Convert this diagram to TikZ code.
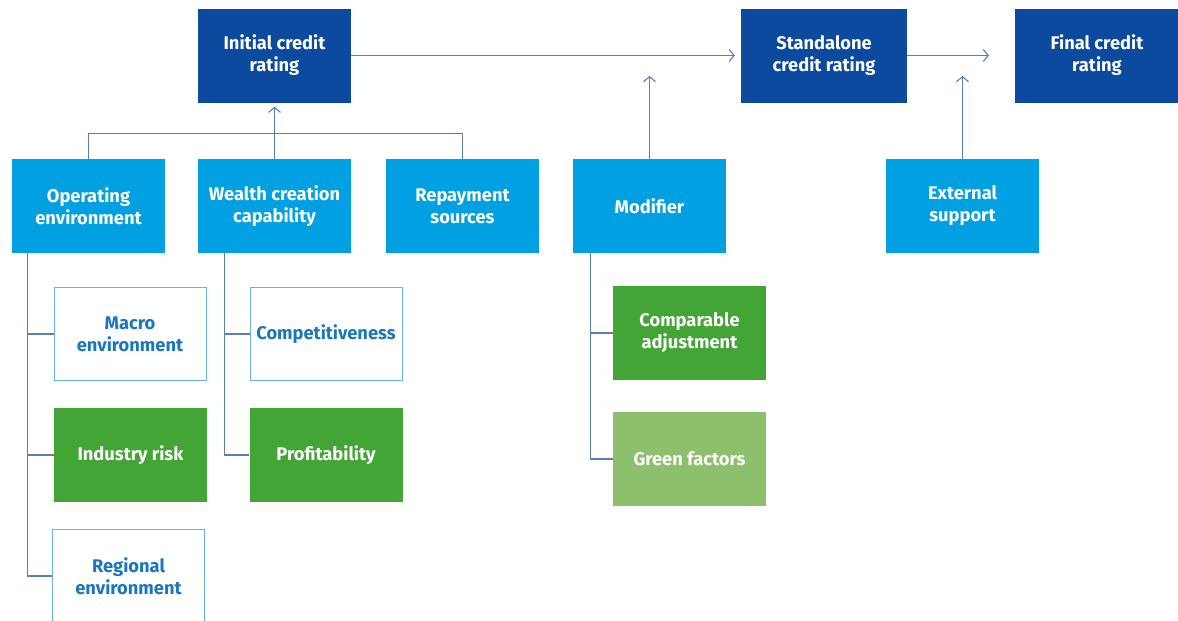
\documentclass[tikz,border=0pt]{standalone}
\usepackage{fontspec}
\setmainfont{Fira Sans}
\usetikzlibrary{arrows.meta}
\definecolor{dblue}{HTML}{0B4A9E}
\definecolor{lblue}{HTML}{00A0E3}
\definecolor{tblue}{HTML}{1B76C0}
\definecolor{bord}{HTML}{6AB4E4}
\definecolor{dgreen}{HTML}{44A537}
\definecolor{lgreen}{HTML}{8DC06C}
\definecolor{lnc}{HTML}{5B7DB8}
\begin{document}
\begin{tikzpicture}[x=1pt,y=-1pt,
  box/.style={minimum width=153pt, minimum height=94pt, inner sep=0pt, align=center,
    font=\bfseries\fontsize{18.3}{22}\selectfont, text=white},
  darkbox/.style={box, fill=dblue},
  midbox/.style={box, fill=lblue},
  whitebox/.style={box, minimum width=152pt, minimum height=93pt, draw=bord, line width=1pt, fill=white, text=tblue},
  greenbox/.style={box, fill=dgreen},
  lgreenbox/.style={box, fill=lgreen},
  conn/.style={draw=lnc, line width=1.1pt},
  arr/.style={conn, -{Straight Barb[length=5pt,width=12pt,line width=1.1pt]}}
]
\useasboundingbox (0,0) rectangle (1178,621);
% top row
\node[darkbox] (ini) at (274.5,55.5) {Initial credit\\rating};
\node[darkbox, minimum width=166pt] (sa) at (824,55.5) {Standalone\\credit rating};
\node[darkbox, minimum width=164pt] (fin) at (1097,55.5) {Final credit\\rating};
% second row
\node[midbox] (op) at (88.5,206) {Operating\\environment};
\node[midbox] (wc) at (274.5,206) {Wealth creation\\capability};
\node[midbox] (rep) at (462.5,206) {Repayment\\sources};
\node[midbox] (mod) at (649.5,206) {Modifier};
\node[midbox] (ext) at (962.5,206) {External\\support};
% children
\node[whitebox] (mac) at (130,334) {Macro\\environment};
\node[greenbox] (ind) at (130.5,455) {Industry risk};
\node[whitebox] (reg) at (128.5,576) {Regional\\environment};
\node[whitebox] (com) at (326,334) {Competitiveness};
\node[greenbox] (pro) at (326,455) {Profitability};
\node[greenbox] (cmp) at (689.5,333) {Comparable\\adjustment};
\node[lgreenbox] (grn) at (689.5,459) {Green factors};
% free ends
\coordinate (mtip) at (649.5,76);
\coordinate (etip) at (962.5,76);
\coordinate (ftip) at (989,55.5);
% connectors
\draw[conn] (op.north) -- ++(0,-25) -| (rep.north);
\draw[arr, shorten >=4pt] (wc.north) -- (ini.south);
\draw[arr, shorten >=6pt] (ini.east) -- (sa.west);
\draw[arr] (sa.east) -- (ftip);
\draw[arr] (mod.north) -- (mtip);
\draw[arr] (ext.north) -- (etip);
\draw[conn] ([xshift=16pt]op.south west) |- (mac.west);
\draw[conn] ([xshift=16pt]op.south west) |- (ind.west);
\draw[conn] ([xshift=16pt]op.south west) |- (reg.west);
\draw[conn] ([xshift=27pt]wc.south west) |- (com.west);
\draw[conn] ([xshift=27pt]wc.south west) |- (pro.west);
\draw[conn] ([xshift=18pt]mod.south west) |- (cmp.west);
\draw[conn] ([xshift=18pt]mod.south west) |- (grn.west);
\end{tikzpicture}
\end{document}
